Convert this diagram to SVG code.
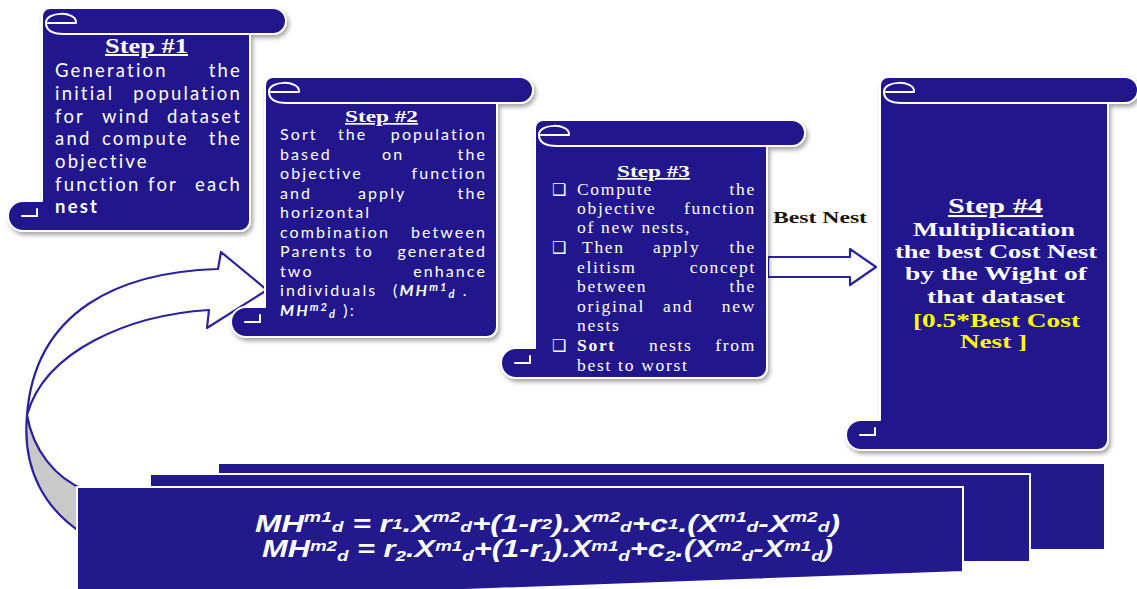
<svg xmlns="http://www.w3.org/2000/svg" width="1137" height="589" viewBox="0 0 1137 589">
<defs>
<filter id="sh" x="-15%" y="-10%" width="130%" height="125%"><feDropShadow dx="2" dy="3" stdDeviation="2" flood-color="#000" flood-opacity="0.35"/></filter>
</defs>
<style>
.scroll{fill:#21198c;stroke:#fff;stroke-width:2;stroke-linejoin:round}
.curl{fill:none;stroke:#fff;stroke-width:2;stroke-linecap:round}
.blk{fill:#21198c;stroke:#fff;stroke-width:2}
.conn{fill:#fff;stroke:#2a229c;stroke-width:2.2;stroke-linejoin:round}
.back{fill:#c9c9c9;stroke:#2a229c;stroke-width:2.2;stroke-linejoin:round}
.t1{font-family:Lato,"Liberation Sans",sans-serif;font-size:18.5px;fill:#fff;letter-spacing:2.2px}
.t2{font-family:Lato,"Liberation Sans",sans-serif;font-size:16px;fill:#fff;letter-spacing:2.1px}
.t3{font-family:"Liberation Serif",serif;font-size:17.5px;fill:#fff;letter-spacing:1.7px}
.ttl{font-family:"Liberation Serif",serif;font-weight:bold;fill:#fff;text-decoration:underline}
.t4{font-family:"Liberation Serif",serif;font-weight:bold;font-size:19px;fill:#fff}
.y{fill:#ffff00}
.bx{font-family:"DejaVu Sans",sans-serif;font-size:16px;fill:#fff;letter-spacing:0}
.bi{font-weight:bold;font-style:italic}
.s{font-size:11px}
.f{font-family:"Liberation Sans",sans-serif;font-style:italic;font-weight:bold;font-size:23px;fill:#fff}
.fs{font-size:14px}
.lbl{font-family:"Liberation Serif",serif;font-weight:bold;font-size:16px;fill:#1a1208}
</style>
<rect width="1137" height="589" fill="#fff"/>

<g id="connectors">
  <path class="back" d="M 27,415 C 22,470 45,510 85,535 L 95,535 L 95,490 L 85,490 C 55,478 33,450 27,415 Z"/>
  <path class="conn" d="M 218,269 C 120,272 35,310 27,415 C 45,350 130,315 209,310 L 207,328 L 267,290 L 221,252 Z"/>
  <polygon class="conn" points="768,257 850,257 850,249 876,267 850,285 850,277 768,277"/>
  <text class="lbl" x="773" y="223" textLength="94" lengthAdjust="spacingAndGlyphs">Best Nest</text>
</g>

<g id="formula-stack">
  <rect class="blk" x="218" y="463" width="887" height="87"/>
  <rect class="blk" x="150" y="474" width="880" height="88"/>
  <polygon class="blk" points="77,487 963,487 963,572 77,604"/>
  <text class="f" x="255" y="532" textLength="585" lengthAdjust="spacingAndGlyphs">MH<tspan class="fs" dy="-10">m1</tspan><tspan class="fs" dy="10">d</tspan> = r<tspan class="fs" dy="-3">1</tspan><tspan dy="3">.X</tspan><tspan class="fs" dy="-10">m2</tspan><tspan class="fs" dy="10">d</tspan><tspan>+(1-r</tspan><tspan class="fs" dy="-3">2</tspan><tspan dy="3">).X</tspan><tspan class="fs" dy="-10">m2</tspan><tspan class="fs" dy="10">d</tspan><tspan>+c</tspan><tspan class="fs" dy="-3">1</tspan><tspan dy="3">.(X</tspan><tspan class="fs" dy="-10">m1</tspan><tspan class="fs" dy="10">d</tspan><tspan>-X</tspan><tspan class="fs" dy="-10">m2</tspan><tspan class="fs" dy="10">d</tspan><tspan>)</tspan></text>
  <text class="f" x="262" y="557" textLength="571" lengthAdjust="spacingAndGlyphs">MH<tspan class="fs" dy="-6">m2</tspan><tspan class="fs" dy="10">d</tspan><tspan dy="-4"> = r</tspan><tspan class="fs" dy="4">2</tspan><tspan dy="-4">.X</tspan><tspan class="fs" dy="-6">m1</tspan><tspan class="fs" dy="10">d</tspan><tspan dy="-4">+(1-r</tspan><tspan class="fs" dy="4">1</tspan><tspan dy="-4">).X</tspan><tspan class="fs" dy="-6">m1</tspan><tspan class="fs" dy="10">d</tspan><tspan dy="-4">+c</tspan><tspan class="fs" dy="4">2</tspan><tspan dy="-4">.(X</tspan><tspan class="fs" dy="-6">m2</tspan><tspan class="fs" dy="10">d</tspan><tspan dy="-4">-X</tspan><tspan class="fs" dy="-6">m1</tspan><tspan class="fs" dy="10">d</tspan><tspan dy="-4">)</tspan></text>
</g>

<g id="step1">
  <path class="scroll" filter="url(#sh)" d="M 50,8 H 273 A 13 13 0 0 1 273,34 H 250 V 221 A 10 10 0 0 1 240,231 H 23 A 15 15 0 0 1 23,201 H 42 V 16 A 8 8 0 0 1 50,8 Z"/>
  <path class="curl" d="M 76,22 C 76,11 46,11 46,23 C 46,31 54,34 64,34 H 250 M 48,23 H 76 M 22,216 H 37 V 209"/>
  <text class="ttl" x="105" y="53" font-size="20" textLength="83" lengthAdjust="spacingAndGlyphs">Step #1</text>
  <text class="t1" y="77"><tspan x="55">Generation </tspan><tspan x="242" text-anchor="end">the</tspan></text>
  <text class="t1" y="100"><tspan x="55">initial </tspan><tspan x="242" text-anchor="end">population</tspan></text>
  <text class="t1" y="122.5"><tspan x="55">for </tspan><tspan x="102">wind </tspan><tspan x="242" text-anchor="end">dataset</tspan></text>
  <text class="t1" y="145"><tspan x="55">and </tspan><tspan x="102">compute </tspan><tspan x="242" text-anchor="end">the</tspan></text>
  <text class="t1" x="55" y="168">objective</text>
  <text class="t1" y="190.5"><tspan x="55">function </tspan><tspan x="148">for </tspan><tspan x="242" text-anchor="end">each</tspan></text>
  <text class="t1" x="55" y="213" font-weight="bold" font-size="20">nest</text>
</g>

<g id="step2">
  <path class="scroll" filter="url(#sh)" d="M 273,77 H 520 A 13 13 0 0 1 520,103 H 497 V 327 A 10 10 0 0 1 487,337 H 246 A 15 15 0 0 1 246,307 H 265 V 85 A 8 8 0 0 1 273,77 Z"/>
  <path class="curl" d="M 299,91 C 299,80 269,80 269,92 C 269,100 277,103 287,103 H 497 M 271,92 H 299 M 245,322 H 260 V 315"/>
  <text class="ttl" x="345" y="122" font-size="17" textLength="73" lengthAdjust="spacingAndGlyphs">Step #2</text>
  <text class="t2" y="140"><tspan x="280">Sort </tspan><tspan x="338">the </tspan><tspan x="487" text-anchor="end">population</tspan></text>
  <text class="t2" y="159.5"><tspan x="280">based </tspan><tspan x="382">on </tspan><tspan x="487" text-anchor="end">the</tspan></text>
  <text class="t2" y="179"><tspan x="280">objective </tspan><tspan x="487" text-anchor="end">function</tspan></text>
  <text class="t2" y="198.5"><tspan x="280">and </tspan><tspan x="358">apply </tspan><tspan x="487" text-anchor="end">the</tspan></text>
  <text class="t2" x="280" y="218">horizontal</text>
  <text class="t2" y="237.5"><tspan x="280">combination </tspan><tspan x="487" text-anchor="end">between</tspan></text>
  <text class="t2" y="257"><tspan x="280">Parents </tspan><tspan x="355">to </tspan><tspan x="487" text-anchor="end">generated</tspan></text>
  <text class="t2" y="276.5"><tspan x="280">two </tspan><tspan x="487" text-anchor="end">enhance</tspan></text>
  <text class="t2" y="296"><tspan x="280">individuals </tspan><tspan x="393">(<tspan class="bi">MH</tspan><tspan class="bi s" dy="-5">m1</tspan><tspan class="bi s" dy="7">d</tspan><tspan dy="-2"> .</tspan></tspan></text>
  <text class="t2" x="280" y="315.5"><tspan class="bi">MH</tspan><tspan class="bi s" dy="-5">m2</tspan><tspan class="bi s" dy="7">d</tspan><tspan dy="-2"> ):</tspan></text>
</g>

<g id="step3">
  <path class="scroll" filter="url(#sh)" d="M 543,120 H 792 A 13 13 0 0 1 792,146 H 767 V 368 A 10 10 0 0 1 757,378 H 516 A 15 15 0 0 1 516,348 H 535 V 128 A 8 8 0 0 1 543,120 Z"/>
  <path class="curl" d="M 569,134 C 569,123 539,123 539,135 C 539,143 547,146 557,146 H 767 M 541,135 H 569 M 515,363 H 530 V 356"/>
  <text class="ttl" x="617" y="177" font-size="17" textLength="73" lengthAdjust="spacingAndGlyphs">Step #3</text>
  <text class="t3" y="195"><tspan class="bx" x="552">❑</tspan><tspan x="577">Compute </tspan><tspan x="756" text-anchor="end">the</tspan></text>
  <text class="t3" y="214"><tspan x="577">objective </tspan><tspan x="756" text-anchor="end">function</tspan></text>
  <text class="t3" x="577" y="233">of new nests,</text>
  <text class="t3" y="253"><tspan class="bx" x="552">❑</tspan><tspan x="582">Then </tspan><tspan x="653">apply </tspan><tspan x="756" text-anchor="end">the</tspan></text>
  <text class="t3" y="273"><tspan x="577">elitism </tspan><tspan x="756" text-anchor="end">concept</tspan></text>
  <text class="t3" y="292"><tspan x="577">between </tspan><tspan x="756" text-anchor="end">the</tspan></text>
  <text class="t3" y="312"><tspan x="577">original </tspan><tspan x="663">and </tspan><tspan x="756" text-anchor="end">new</tspan></text>
  <text class="t3" x="577" y="331">nests</text>
  <text class="t3" y="351"><tspan class="bx" x="552">❑</tspan><tspan x="577" font-weight="bold">Sort </tspan><tspan x="649">nests </tspan><tspan x="756" text-anchor="end">from</tspan></text>
  <text class="t3" x="577" y="371">best to worst</text>
</g>

<g id="step4">
  <path class="scroll" filter="url(#sh)" d="M 888,77 H 1125 A 13 13 0 0 1 1125,103 H 1108 V 440 A 10 10 0 0 1 1098,450 H 861 A 15 15 0 0 1 861,420 H 880 V 85 A 8 8 0 0 1 888,77 Z"/>
  <path class="curl" d="M 914,91 C 914,80 884,80 884,92 C 884,100 892,103 902,103 H 1108 M 886,92 H 914 M 860,435 H 875 V 428"/>
  <text class="ttl" x="948" y="213" font-size="21" textLength="95" lengthAdjust="spacingAndGlyphs">Step #4</text>
  <text class="t4" x="913" y="236" textLength="162" lengthAdjust="spacingAndGlyphs">Multiplication</text>
  <text class="t4" x="895" y="258" textLength="202" lengthAdjust="spacingAndGlyphs">the best Cost Nest</text>
  <text class="t4" x="905" y="280" textLength="182" lengthAdjust="spacingAndGlyphs">by the Wight of</text>
  <text class="t4" x="927" y="303" textLength="138" lengthAdjust="spacingAndGlyphs">that dataset</text>
  <text class="t4 y" x="913" y="327" textLength="167" lengthAdjust="spacingAndGlyphs">[0.5*Best Cost</text>
  <text class="t4 y" x="960" y="348" textLength="67" lengthAdjust="spacingAndGlyphs">Nest ]</text>
</g>
</svg>
